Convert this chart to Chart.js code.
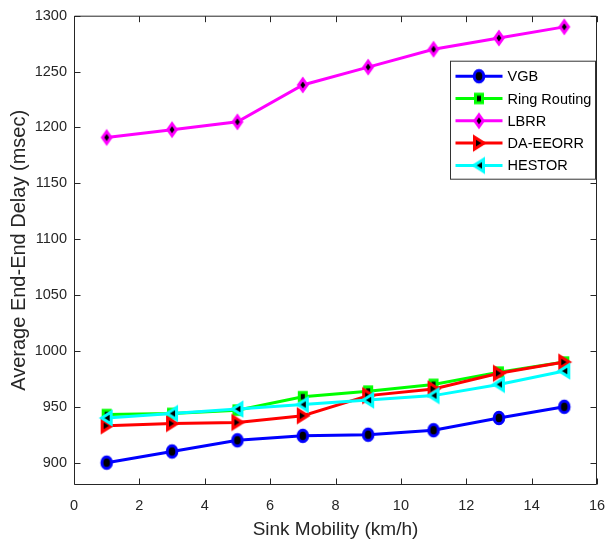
<!DOCTYPE html>
<html>
<head>
<meta charset="utf-8">
<script src="https://cdn.jsdelivr.net/npm/chart.js@4.4.0/dist/chart.umd.min.js"></script>
<style>
  html, body { margin: 0; padding: 0; background: #fff; }
</style>
</head>
<body>
<canvas id="chart" width="607" height="544"></canvas>
<script>
// Sink mobility (km/h) on x, end-to-end delay (msec) on y
const mobility = [1, 3, 5, 7, 9, 11, 13, 15];
const vgb = [900, 910, 920, 924, 925, 929, 940, 950];
const ringRouting = [943, 944, 947, 959, 964, 970, 981, 990];
const lbrr = [1191, 1198, 1205, 1238, 1254, 1270, 1280, 1290];
const daEeorr = [933, 935, 936, 942, 960, 966, 980, 990];
const hestor = [940, 944, 948, 952, 956, 960, 970, 982];
const xTicks = [0, 2, 4, 6, 8, 10, 12, 14, 16];
const yTicks = [900, 950, 1000, 1050, 1100, 1150, 1200, 1250, 1300];

const FONT = "'Liberation Sans', Arial, sans-serif";
const TEXT = '#262626';

// marker images: coloured outline, black face
function makeMarker(shape, color) {
    const c = document.createElement('canvas');
    c.width = 24; c.height = 24;
    const g = c.getContext('2d');
    g.translate(12, 12);
    g.beginPath();
    if (shape === 'circle') {
        g.ellipse(0, 0, 4.8, 5.8, 0, 0, Math.PI * 2);
    } else if (shape === 'square') {
        g.rect(-3.5, -4.2, 7, 8.4);
    } else if (shape === 'diamond') {
        g.moveTo(0, -6); g.lineTo(4.2, 0); g.lineTo(0, 6); g.lineTo(-4.2, 0);
    } else if (shape === 'right') {
        g.moveTo(-4.5, -6); g.lineTo(5, 0); g.lineTo(-4.5, 6);
    } else if (shape === 'left') {
        g.moveTo(4.5, -6); g.lineTo(-5, 0); g.lineTo(4.5, 6);
    }
    g.closePath();
    g.fillStyle = '#000';
    g.fill();
    g.lineWidth = 3;
    g.lineJoin = 'miter';
    g.miterLimit = 4;
    g.strokeStyle = color;
    g.stroke();
    return c;
}

const series = [
    { label: 'VGB', values: vgb, color: '#0000ff', shape: 'circle' },
    { label: 'Ring Routing', values: ringRouting, color: '#00ff00', shape: 'square' },
    { label: 'LBRR', values: lbrr, color: '#ff00ff', shape: 'diamond' },
    { label: 'DA-EEORR', values: daEeorr, color: '#ff0000', shape: 'right' },
    { label: 'HESTOR', values: hestor, color: '#00ffff', shape: 'left' }
];

const datasets = series.map((s, i) => ({
    label: s.label,
    data: mobility.map((m, j) => ({ x: m, y: s.values[j] })),
    borderColor: s.color,
    backgroundColor: s.color,
    borderWidth: 3,
    pointStyle: makeMarker(s.shape, s.color),
    pointRadius: 7,
    tension: 0,
    order: series.length - i
}));

// box around the axes with inward tick marks, plus the legend
const framePlugin = {
    id: 'frame',
    afterDraw(chart) {
        const { ctx, chartArea: a, scales: { x, y } } = chart;
        const L = a.left + 0.5, R = a.right - 0.5, T = a.top + 0.5, B = a.bottom - 0.5;
        ctx.save();
        ctx.strokeStyle = TEXT;
        ctx.lineWidth = 1;
        ctx.beginPath();
        ctx.rect(L, T, R - L, B - T);
        x.ticks.forEach(t => {
            const px = Math.round(x.getPixelForValue(t.value)) + 0.5;
            ctx.moveTo(px, B); ctx.lineTo(px, B - 6);
            ctx.moveTo(px, T); ctx.lineTo(px, T + 6);
        });
        y.ticks.forEach(t => {
            const py = Math.round(y.getPixelForValue(t.value)) + 0.5;
            ctx.moveTo(L, py); ctx.lineTo(L + 6, py);
            ctx.moveTo(R, py); ctx.lineTo(R - 6, py);
        });
        ctx.stroke();

        // legend
        const bx = a.right - 146.5, by = a.top + 45.5, bw = 145, bh = 118;
        ctx.fillStyle = '#fff';
        ctx.fillRect(bx, by, bw, bh);
        ctx.strokeStyle = '#333';
        ctx.strokeRect(bx, by, bw, bh);
        ctx.font = '14.5px ' + FONT;
        ctx.textBaseline = 'middle';
        ctx.textAlign = 'left';
        chart.data.datasets.forEach((ds, i) => {
            const ry = by + 15 + i * 22.3;
            ctx.strokeStyle = ds.borderColor;
            ctx.lineWidth = 3;
            ctx.beginPath();
            ctx.moveTo(bx + 5, ry);
            ctx.lineTo(bx + 52, ry);
            ctx.stroke();
            const img = ds.pointStyle;
            ctx.drawImage(img, bx + 28.5 - img.width / 2, ry - img.height / 2);
            ctx.fillStyle = '#000';
            ctx.fillText(ds.label, bx + 57, ry + 1);
        });
        ctx.restore();
    }
};

new Chart(document.getElementById('chart'), {
    type: 'line',
    data: { datasets: datasets },
    options: {
        responsive: false,
        animation: false,
        layout: { padding: { left: 0, top: 15, right: 10, bottom: 0 } },
        plugins: { legend: { display: false }, tooltip: { enabled: false } },
        scales: {
            x: {
                type: 'linear',
                min: 0,
                max: 16,
                afterBuildTicks: scale => { scale.ticks = xTicks.map(v => ({ value: v })); },
                afterFit: scale => { scale.height = 59; scale.paddingRight = 0; },
                grid: { display: false, drawTicks: false },
                border: { display: false },
                ticks: {
                    padding: 12,
                    color: TEXT,
                    font: { family: FONT, size: 14.5 },
                    maxRotation: 0,
                    callback: v => String(v)
                },
                title: {
                    display: true,
                    text: 'Sink Mobility (km/h)',
                    color: TEXT,
                    font: { family: FONT, size: 19 },
                    padding: { top: 0, bottom: 3 }
                }
            },
            y: {
                type: 'linear',
                min: 880,
                max: 1300,
                afterBuildTicks: scale => { scale.ticks = yTicks.map(v => ({ value: v })); },
                afterFit: scale => { scale.width = 74; },
                grid: { display: false, drawTicks: false },
                border: { display: false },
                ticks: {
                    padding: 7,
                    color: TEXT,
                    font: { family: FONT, size: 14.5 },
                    callback: v => String(v)
                },
                title: {
                    display: true,
                    text: 'Average End-End Delay (msec)',
                    color: TEXT,
                    font: { family: FONT, size: 20 },
                    padding: { top: 7, bottom: 0 }
                }
            }
        }
    },
    plugins: [framePlugin]
});
</script>
</body>
</html>
